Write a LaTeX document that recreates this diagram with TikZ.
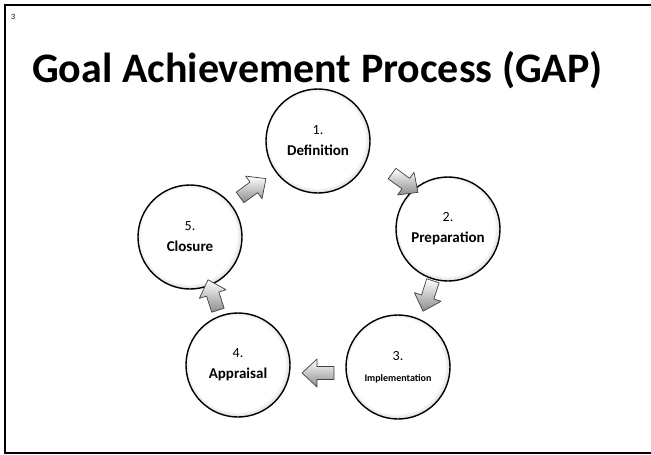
\documentclass[tikz,border=0pt]{standalone}
\usepackage{fontspec}
\setmainfont{Carlito}
\usetikzlibrary{calc}

% disc with a soft inner shadow toward the lower right
% (the path's bounding box maps to the central 50bp square, so the rim is at 25bp)
\pgfdeclareradialshading{discshade}{\pgfpoint{-3bp}{3bp}}{%
  color(0bp)=(white); color(23bp)=(white); color(25.5bp)=(black!15);
  color(28bp)=(black!45); color(30bp)=(black!60)}

\newcommand\stagefont{\bfseries\fontsize{15}{17}\selectfont}

\tikzset{
  stage/.style={circle, minimum size=104pt, inner sep=0pt, draw=black,
    line width=1.4pt, shading=discshade, align=center, font=\fontsize{14}{16}\selectfont},
  pics/cyclearrow/.style={code={
    \shade[top color=white, bottom color=black!45, draw=black!75, line width=0.7pt,
      line join=round]
      (-16,-6.5) -- (1,-6.5) -- (1,-14) -- (16,0) -- (1,14) -- (1,6.5) -- (-16,6.5) -- cycle;
  }},
  frameline/.style={line width=2.6pt, black},
}

\begin{document}
\begin{tikzpicture}[x=1pt,y=-1pt]
  \useasboundingbox (0,0) rectangle (651,455);

  % page frame
  \draw[frameline] (651,5) -- (5,5) -- (5,453) -- (651,453);

  % slide number and title
  \node[anchor=west, inner sep=0pt, font=\fontsize{8}{9}\selectfont] (num) at (11,17) {3};
  \node[anchor=base west, inner sep=0pt, font=\bfseries\fontsize{42}{46}\selectfont]
    (title) at (32,82) {Goal Achievement Process (GAP)};

  % stages of the cycle
  \node[stage] (s1) at (318,141) {1.\\[5pt]{\stagefont Definition}};
  \node[stage] (s2) at (448,229) {2.\\[5pt]{\stagefont Preparation}};
  \node[stage] (s3) at (398,367) {3.\\[5pt]{\bfseries\fontsize{10}{12}\selectfont Implementation}};
  \node[stage] (s4) at (238,365) {4.\\[5pt]{\stagefont Appraisal}};
  \node[stage] (s5) at (190,237) {5.\\[5pt]{\stagefont Closure}};

  % block arrows between consecutive stages
  \pic[rotate=-36]  at (405,183) {cyclearrow};
  \pic[rotate=-108] at (428,296) {cyclearrow};
  \pic[rotate=180]  at (318,373) {cyclearrow};
  \pic[rotate=108]  at (213,295) {cyclearrow};
  \pic[rotate=36]   at (253,188) {cyclearrow};
\end{tikzpicture}
\end{document}
